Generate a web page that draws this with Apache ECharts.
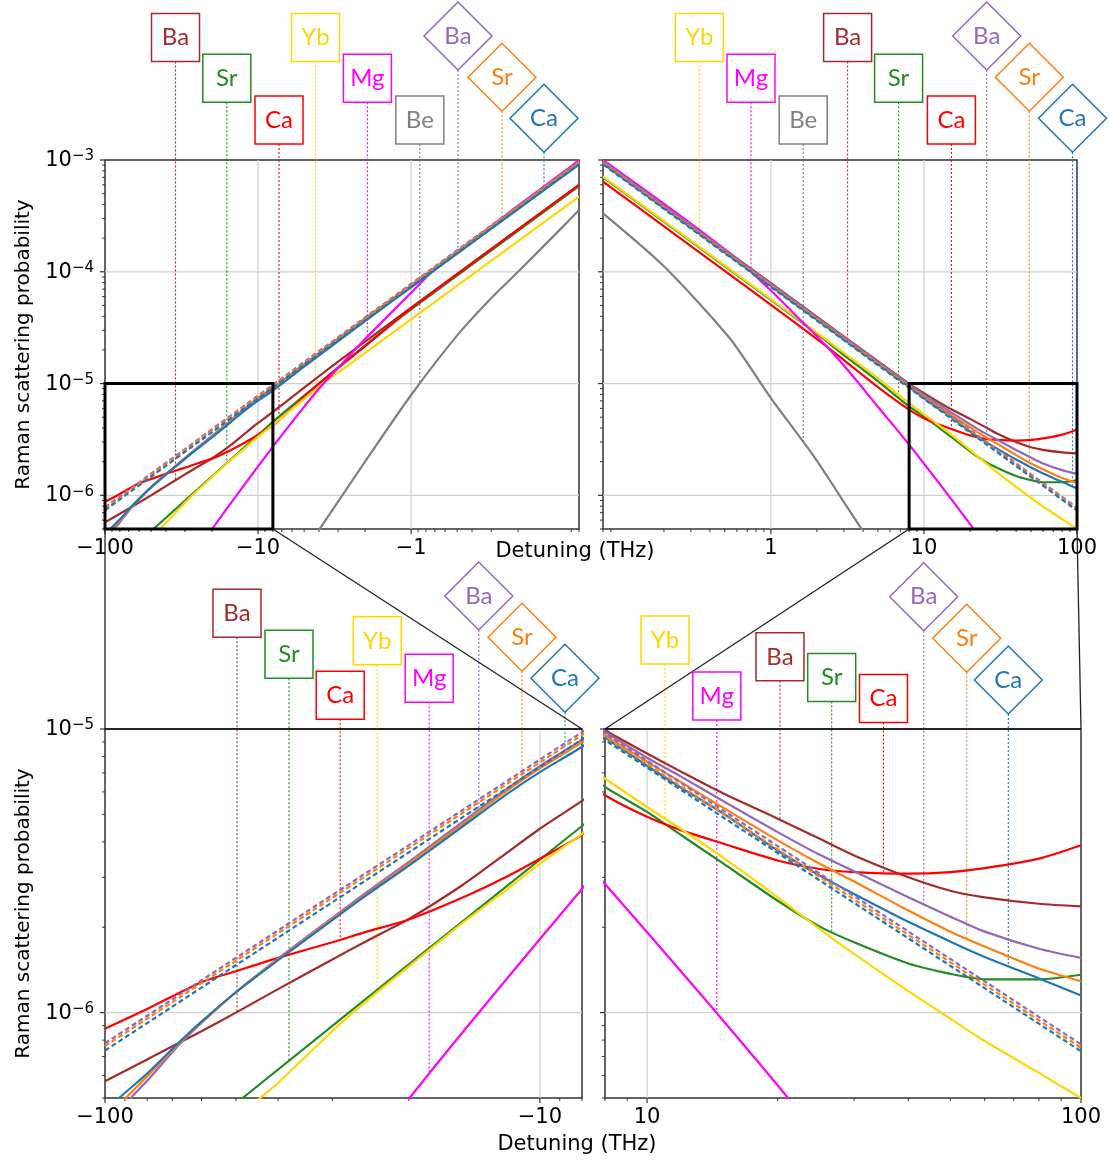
<!DOCTYPE html>
<html><head><meta charset="utf-8">
<script src="https://cdn.jsdelivr.net/npm/echarts@6/dist/echarts.min.js"></script>
<style>html,body{margin:0;padding:0;background:#fff}#c{width:1109px;height:1164px}</style>
</head><body><div id="c"></div>
<script>
// ---------- DATA: |detuning| (THz) , Raman scattering probability ----------
// negative detuning side (x = |Δ|)
const negBa  = [[100,5.73e-7],[80,6.84e-7],[60,8.6e-7],[50,1.0e-6],[40,1.21e-6],[30,1.54e-6],[25,1.79e-6],[20,2.14e-6],[15,2.83e-6],[12,3.63e-6],[10,4.45e-6],[8,5.58e-6],[5,9.2e-6],[3,1.57e-5],[2,2.37e-5],[1,4.78e-5],[0.08,5.97e-4]];
const negSr  = [[100,2.04e-7],[48.5,4.97e-7],[8,4.55e-6],[5,7.8e-6],[4,1.0e-5],[3,1.38e-5],[2,2.2e-5],[1,4.6e-5],[0.08,5.85e-4]];
const negCa  = [[100,8.78e-7],[80,1.03e-6],[60,1.28e-6],[50,1.40e-6],[40,1.56e-6],[30,1.77e-6],[25,1.93e-6],[20,2.13e-6],[15,2.55e-6],[12,3.0e-6],[10,3.49e-6],[8,4.24e-6],[5,7.6e-6],[4,1.0e-5],[3,1.39e-5],[2,2.15e-5],[1,4.7e-5],[0.08,6.0e-4]];
const negYb  = [[100,1.72e-7],[44.2,4.97e-7],[40,5.65e-7],[30,8.61e-7],[25,1.10e-6],[20,1.455e-6],[15,2.08e-6],[12,2.69e-6],[10,3.35e-6],[8,4.27e-6],[5,7.3e-6],[4,9.4e-6],[3,1.25e-5],[2,1.88e-5],[1,3.76e-5],[0.08,4.7e-4]];
const negMg  = [[100,2.0e-8],[20,4.97e-7],[8,2.73e-6],[5,6.2e-6],[4,9.0e-6],[3,1.38e-5],[2,2.5e-5],[1,6.5e-5],[0.7,1.06e-4],[0.5,1.5e-4],[0.3,2.55e-4],[0.2,3.9e-4],[0.1,7.9e-4],[0.08,1.0e-3]];
const negBe  = [[20,2.0e-8],[4,4.9e-7],[2,2.0e-6],[1,7.9e-6],[0.5,2.7e-5],[0.3,5.8e-5],[0.2,1.0e-4],[0.1,2.6e-4],[0.08,3.57e-4]];
const negBaD = [[100,4.0e-7],[87.6,4.97e-7],[80,5.75e-7],[67.3,7.75e-7],[60,9.2e-7],[50,1.18e-6],[40,1.55e-6],[30,2.16e-6],[25,2.66e-6],[20,3.4e-6],[15,4.72e-6],[12,6.1e-6],[10,7.4e-6],[8,9.15e-6],[5,1.49e-5],[2,3.8e-5],[1,7.6e-5],[0.08,9.6e-4]];
const negSrD = [[100,4.2e-7],[90,4.97e-7],[80,5.96e-7],[67.3,7.83e-7],[60,9.24e-7],[50,1.18e-6],[40,1.54e-6],[30,2.14e-6],[25,2.62e-6],[20,3.35e-6],[15,4.64e-6],[12,6.0e-6],[10,7.26e-6],[8,8.97e-6],[5,1.46e-5],[2,3.72e-5],[1,7.45e-5],[0.08,9.4e-4]];
const negCaD = [[100,4.45e-7],[93.2,4.97e-7],[80,6.1e-7],[67.3,7.9e-7],[60,9.3e-7],[50,1.18e-6],[40,1.53e-6],[30,2.12e-6],[25,2.6e-6],[20,3.3e-6],[15,4.55e-6],[12,5.85e-6],[10,7.05e-6],[8,8.66e-6],[5,1.42e-5],[2,3.62e-5],[1,7.25e-5],[0.08,9.1e-4]];
const negDashBa = [[100,7.8e-7],[0.08,9.75e-4]];
const negDashSr = [[100,7.62e-7],[0.08,9.52e-4]];
const negDashCa = [[100,7.35e-7],[0.08,9.2e-4]];
// positive detuning side
const posBa  = [[0.08,9.9e-4],[1,7.9e-5],[8,9.92e-6],[10,8.2e-6],[12,7.06e-6],[15,5.92e-6],[20,4.83e-6],[25,4.10e-6],[30,3.58e-6],[40,3.00e-6],[50,2.69e-6],[60,2.55e-6],[80,2.42e-6],[100,2.37e-6]];
const posSr  = [[0.08,7.0e-4],[0.3,1.87e-4],[1,5.6e-5],[2,2.8e-5],[3,1.8e-5],[5,1.05e-5],[8,6.25e-6],[10,5.10e-6],[12,4.22e-6],[15,3.35e-6],[20,2.48e-6],[25,2.01e-6],[30,1.77e-6],[40,1.49e-6],[50,1.37e-6],[60,1.31e-6],[80,1.31e-6],[100,1.36e-6]];
const posCa  = [[0.08,6.4e-4],[0.3,1.7e-4],[1,5.05e-5],[2,2.5e-5],[3,1.62e-5],[5,9.3e-6],[8,5.84e-6],[10,4.90e-6],[12,4.39e-6],[15,3.94e-6],[20,3.44e-6],[25,3.21e-6],[30,3.13e-6],[40,3.09e-6],[50,3.13e-6],[60,3.23e-6],[80,3.49e-6],[100,3.89e-6]];
const posYb  = [[0.08,7.1e-4],[0.3,1.9e-4],[1,5.7e-5],[2,2.85e-5],[3,1.88e-5],[5,1.12e-5],[8,6.69e-6],[10,5.31e-6],[12,4.43e-6],[15,3.51e-6],[20,2.55e-6],[25,1.97e-6],[30,1.61e-6],[40,1.19e-6],[50,9.52e-7],[60,7.94e-7],[80,6.13e-7],[100,5.0e-7]];
const posMg  = [[0.08,1.0e-3],[0.3,2.7e-4],[0.6,1.3e-4],[1,6.8e-5],[1.5,3.9e-5],[2,2.65e-5],[3,1.45e-5],[5,6.2e-6],[8,2.84e-6],[21.2,4.97e-7],[100,2.6e-8]];
const posBe  = [[0.08,3.33e-4],[0.2,1.12e-4],[0.54,2.53e-5],[1,7.4e-6],[1.9,2.25e-6],[3.92,5.0e-7],[20,2.0e-8]];
const posBaD = [[0.08,9.75e-4],[1,7.8e-5],[8,9.78e-6],[10,7.92e-6],[12,6.78e-6],[15,5.56e-6],[20,4.33e-6],[25,3.60e-6],[30,3.15e-6],[40,2.55e-6],[50,2.18e-6],[60,1.93e-6],[80,1.68e-6],[100,1.56e-6]];
const posSrD = [[0.08,9.5e-4],[1,7.6e-5],[8,9.52e-6],[10,7.66e-6],[12,6.48e-6],[15,5.27e-6],[20,4.05e-6],[25,3.35e-6],[30,2.90e-6],[40,2.29e-6],[50,1.93e-6],[60,1.71e-6],[80,1.43e-6],[100,1.29e-6]];
const posCaD = [[0.08,9.3e-4],[1,7.45e-5],[8,9.32e-6],[10,7.42e-6],[12,6.20e-6],[15,5.03e-6],[20,3.73e-6],[25,3.04e-6],[30,2.62e-6],[40,2.09e-6],[50,1.78e-6],[60,1.57e-6],[80,1.32e-6],[100,1.15e-6]];
const posDashBa = [[0.08,9.66e-4],[100,7.73e-7]];
const posDashSr = [[0.08,9.4e-4],[100,7.52e-7]];
const posDashCa = [[0.08,9.14e-4],[100,7.31e-7]];

// axis ranges
const fullX = [0.08, 100], zoomX = [8, 100];
const fullY = [5e-7, 1e-3], zoomY = [5e-7, 1e-5];
const xTickLabels = [1, 10, 100];
const yTickExps = [-6, -5, -4, -3];

// ---------- styles / layout ----------
const COL = {Ba:'#a52a2a', Sr:'#228b22', Ca:'#ff0000', Yb:'#ffd700', Mg:'#ff00ff', Be:'#808080',
             BaD:'#9467bd', SrD:'#ff7f0e', CaD:'#1f77b4', BaDash:'#9467bd', SrDash:'#ff7f0e', CaDash:'#1f77b4'};
const keys = ['Ba','Sr','Ca','Yb','Mg','Be','BaD','SrD','CaD','BaDash','SrDash','CaDash'];
const sides = {
  neg: {Ba:negBa,Sr:negSr,Ca:negCa,Yb:negYb,Mg:negMg,Be:negBe,BaD:negBaD,SrD:negSrD,CaD:negCaD,BaDash:negDashBa,SrDash:negDashSr,CaDash:negDashCa},
  pos: {Ba:posBa,Sr:posSr,Ca:posCa,Yb:posYb,Mg:posMg,Be:posBe,BaD:posBaD,SrD:posSrD,CaD:posCaD,BaDash:posDashBa,SrDash:posDashSr,CaDash:posDashCa}
};
const panels = [
  {left:105, top:160, width:474, height:369, x:fullX, y:fullY, side:'neg', ylab:true},
  {left:603, top:160, width:474, height:369, x:fullX, y:fullY, side:'pos', ylab:false},
  {left:105, top:729, width:477, height:369, x:zoomX, y:zoomY, side:'neg', ylab:true},
  {left:605, top:729, width:476, height:369, x:zoomX, y:zoomY, side:'pos', ylab:false}
];
// label annotations: [text, curve key, shape, centre x px, centre y px]
const labelLayout = [
 [['Ba','Ba','box',175.5,37.5],['Sr','Sr','box',226.8,78.3],['Ca','Ca','box',279,120],['Yb','Yb','box',315.5,37.5],['Mg','Mg','box',367.4,78.3],['Be','Be','box',419.8,120],['Ba','BaD','dia',458,36],['Sr','SrD','dia',502,77.3],['Ca','CaD','dia',544,118.3]],
 [['Yb','Yb','box',699.3,37.5],['Mg','Mg','box',751,78.3],['Be','Be','box',803.2,120],['Ba','Ba','box',847.6,37.5],['Sr','Sr','box',898.6,78.3],['Ca','Ca','box',951.4,120],['Ba','BaD','dia',986.7,36],['Sr','SrD','dia',1029.3,77.3],['Ca','CaD','dia',1072.5,118.3]],
 [['Ba','Ba','box',237,613.3],['Sr','Sr','box',289,654.2],['Ca','Ca','box',340.2,695.2],['Yb','Yb','box',377.2,640.8],['Mg','Mg','box',429.2,678.3],['Ba','BaD','dia',478.8,596],['Sr','SrD','dia',522,637.3],['Ca','CaD','dia',565,678.3]],
 [['Yb','Yb','box',665,640],['Mg','Mg','box',716.8,696],['Ba','Ba','box',780,656.8],['Sr','Sr','box',831.7,677.5],['Ca','Ca','box',883.5,698.5],['Ba','BaD','dia',923.7,596.7],['Sr','SrD','dia',966.7,638.3],['Ca','CaD','dia',1008.3,680]]
];

const FONT = 'DejaVu Sans';
const isDecade = v => Math.abs(Math.log10(v) - Math.round(Math.log10(v))) < 1e-6;

function xFmt(neg){
  return v => {
    if (!isDecade(v)) return '';
    const r = Math.round(v);
    if (xTickLabels.indexOf(r) < 0 || Math.abs(v - r) > 1e-6) return '';
    return (neg ? '\u2212' : '') + r;
  };
}
function yFmt(v){
  if (!isDecade(v)) return '';
  const e = Math.round(Math.log10(v));
  if (yTickExps.indexOf(e) < 0) return '';
  return '{b|10}{s|\u2212' + (-e) + '}';
}

const chart = echarts.init(document.getElementById('c'));
const series = [];
panels.forEach((p, gi) => {
  keys.forEach(k => {
    const dashed = k.indexOf('Dash') > 0;
    series.push({
      type:'line', name:k, xAxisIndex:gi, yAxisIndex:gi, data:sides[p.side][k],
      showSymbol:false, symbol:'none', clip:true, z: dashed ? 4 : 3, silent:true,
      smooth: dashed ? false : 0.25,
      lineStyle:{color:COL[k], width:2.2, type: dashed ? [5,3] : 'solid'}
    });
  });
});

chart.setOption({
  animation:false, backgroundColor:'#fff',
  grid: panels.map(p => ({left:p.left, top:p.top, width:p.width, height:p.height, show:true, borderColor:'#333', borderWidth:1.5, backgroundColor:'transparent'})),
  xAxis: panels.map((p, gi) => ({
    type:'log', logBase:10, gridIndex:gi, min:p.x[0], max:p.x[1], inverse: p.side === 'neg',
    axisLine:{show:false}, axisTick:{show:false}, splitLine:{show:false}, minorTick:{show:false},
    axisLabel:{show:true, showMinLabel:true, showMaxLabel:true, margin:9, fontFamily:FONT, fontSize:21, color:'#000', formatter:xFmt(p.side === 'neg')}
  })),
  yAxis: panels.map((p, gi) => ({
    type:'log', logBase:10, gridIndex:gi, min:p.y[0], max:p.y[1],
    axisLine:{show:false}, axisTick:{show:false}, splitLine:{show:false}, minorTick:{show:false},
    axisLabel:{show:p.ylab, showMinLabel:true, showMaxLabel:true, margin:11, formatter:yFmt,
      rich:{
        b:{fontFamily:FONT, fontSize:21, color:'#000', lineHeight:22, verticalAlign:'bottom'},
        s:{fontFamily:FONT, fontSize:15, color:'#000', lineHeight:14, padding:[0,0,12,0], verticalAlign:'top'}
      }}
  })),
  series: series
});

// ---------- decorations computed through the chart's own scales ----------
function toPx(gi, x, y){ return chart.convertToPixel({gridIndex:gi}, [x, y]); }
function fromPx(gi, X, Y){ return chart.convertFromPixel({gridIndex:gi}, [X, Y]); }
function interpLog(data, x){
  const d = data.slice().sort((a, b) => a[0] - b[0]);
  if (x <= d[0][0]) return d[0][1];
  const lx = Math.log10(x);
  for (let i = 1; i < d.length; i++) {
    if (x <= d[i][0]) {
      const x0 = Math.log10(d[i-1][0]), x1 = Math.log10(d[i][0]);
      const y0 = Math.log10(d[i-1][1]), y1 = Math.log10(d[i][1]);
      return Math.pow(10, y0 + (lx - x0) / (x1 - x0) * (y1 - y0));
    }
  }
  return d[d.length-1][1];
}
function logVals(min, max){
  const maj = [], mnr = [];
  for (let n = Math.floor(Math.log10(min)) - 1; n <= Math.ceil(Math.log10(max)); n++) {
    for (let k = 1; k <= 9; k++) {
      const v = k * Math.pow(10, n);
      if (v >= min * 0.9999 && v <= max * 1.0001) (k === 1 ? maj : mnr).push(v);
    }
  }
  return {maj, mnr};
}
const ln = (x1, y1, x2, y2, stroke, w, z, dash) => ({type:'line', silent:true, z:z, shape:{x1, y1, x2, y2}, style:{stroke, lineWidth:w, lineDash:dash || null}});
const els = [];
const GRIDC = '#d0d0d0', TICKC = '#333';
panels.forEach((p, gi) => {
  const L = p.left, T = p.top, R = p.left + p.width, B = p.top + p.height;
  const xs = logVals(p.x[0], p.x[1]), ys = logVals(p.y[0], p.y[1]);
  xs.maj.filter(v => v >= 1).forEach(v => {
    const X = toPx(gi, v, p.y[0])[0];
    if (X > L + 2 && X < R - 2) els.push(ln(X, T, X, B, GRIDC, 1.2, 1));
    els.push(ln(X, B, X, B + 5, TICKC, 1.2, 3));
  });
  xs.mnr.forEach(v => { const X = toPx(gi, v, p.y[0])[0]; els.push(ln(X, B, X, B + 3, TICKC, 1, 3)); });
  ys.maj.forEach(v => {
    const Y = toPx(gi, p.x[0], v)[1];
    if (Y > T + 2 && Y < B - 2) els.push(ln(L, Y, R, Y, GRIDC, 1.2, 1));
    els.push(ln(L - 5, Y, L, Y, TICKC, 1.2, 3));
  });
  ys.mnr.forEach(v => { const Y = toPx(gi, p.x[0], v)[1]; els.push(ln(L - 3, Y, L, Y, TICKC, 1, 3)); });
});
// zoom boxes and connectors
[[0, 2], [1, 3]].forEach(([top, bot]) => {
  const a = toPx(top, zoomX[0], zoomY[0]), b = toPx(top, zoomX[1], zoomY[1]);
  els.push({type:'rect', silent:true, z:5, shape:{x:Math.min(a[0], b[0]), y:Math.min(a[1], b[1]), width:Math.abs(a[0]-b[0]), height:Math.abs(a[1]-b[1])}, style:{fill:null, stroke:'#000', lineWidth:3}});
  zoomX.forEach(xv => {
    const s = toPx(top, xv, zoomY[0]), e = toPx(bot, xv, zoomY[1]);
    els.push(ln(s[0], s[1], e[0], e[1], '#222', 1.3, 5));
  });
  const pb = panels[bot];
  els.push(ln(pb.left, pb.top, pb.left + pb.width, pb.top, '#111', 1.6, 5));
});
// labels + leader lines
labelLayout.forEach((labs, gi) => {
  const p = panels[gi];
  labs.forEach(([txt, key, shape, cx, cy]) => {
    const col = COL[key];
    const xd = fromPx(gi, cx, p.top)[0];
    const yd = interpLog(sides[p.side][key], xd);
    const endY = toPx(gi, xd, yd)[1];
    const half = shape === 'box' ? 24 : 34;
    els.push(ln(cx, cy + half, cx, endY, col, 1.1, 2, [2, 2]));
    if (shape === 'box') {
      els.push({type:'rect', silent:true, z:6, shape:{x:cx-24, y:cy-24, width:48, height:48}, style:{fill:'#fff', stroke:col, lineWidth:1.5}});
    } else {
      els.push({type:'polygon', silent:true, z:6, shape:{points:[[cx, cy-34], [cx+34, cy], [cx, cy+34], [cx-34, cy]]}, style:{fill:'#fff', stroke:col, lineWidth:1.5}});
    }
    els.push({type:'text', silent:true, z:7, x:cx, y:cy, style:{text:txt, x:0, y:0, fill:col, fontSize:24, fontFamily:'Lato', align:'center', verticalAlign:'middle', textAlign:'center', textVerticalAlign:'middle'}});
  });
});
// axis titles
[[575, 552], [577, 1145]].forEach(([x, y]) => {
  els.push({type:'text', silent:true, z:7, x, y, style:{text:'Detuning (THz)', x:0, y:0, fill:'#000', fontSize:21, fontFamily:FONT, align:'center', verticalAlign:'middle', textAlign:'center', textVerticalAlign:'middle'}});
});
[[24, 344.5], [24, 913.5]].forEach(([x, y]) => {
  els.push({type:'text', silent:true, z:7, x, y, rotation:Math.PI/2, style:{text:'Raman scattering probability', x:0, y:0, fill:'#000', fontSize:20, fontFamily:FONT, align:'center', verticalAlign:'middle', textAlign:'center', textVerticalAlign:'middle'}});
});
chart.setOption({graphic:{elements:els}});
</script></body></html>
